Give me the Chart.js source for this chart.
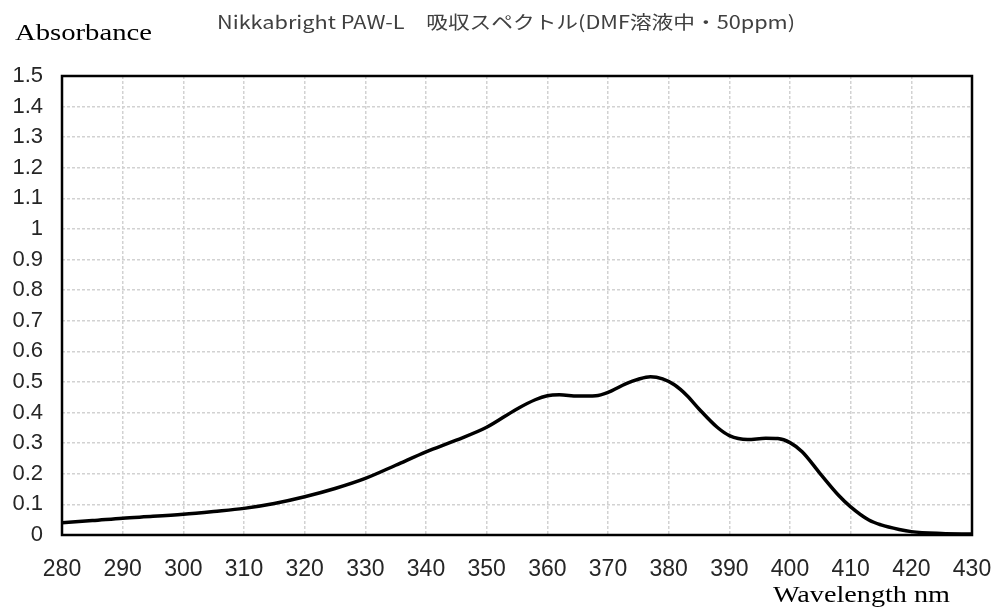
<!DOCTYPE html>
<html>
<head>
<meta charset="utf-8">
<script src="https://cdn.jsdelivr.net/npm/chart.js@4"></script>
<style>
  html, body { margin: 0; padding: 0; background: #fff; }
  #wrap { width: 997px; height: 613px; }
</style>
</head>
<body>
<div id="wrap"><canvas id="absChart"></canvas></div>
<script>
// ------------------------------
// Data
// ------------------------------
const wavelengths = [
  280, 285, 290, 295, 300, 305, 310, 315, 320, 325,
  330, 335, 340, 345, 350, 355, 358, 360, 362, 365,
  368, 370, 373, 375, 377, 379, 381, 383, 385, 388,
  390, 393, 396, 398, 400, 402, 405, 408, 410, 413,
  415, 418, 420, 425, 430
];

const absorbance = [
  0.040, 0.047, 0.055, 0.061, 0.068, 0.077, 0.087, 0.103, 0.125, 0.152,
  0.185, 0.228, 0.272, 0.310, 0.352, 0.412, 0.442, 0.455, 0.458, 0.454,
  0.455, 0.466, 0.495, 0.509, 0.517, 0.510, 0.490, 0.456, 0.412, 0.352,
  0.325, 0.312, 0.316, 0.315, 0.302, 0.272, 0.200, 0.130, 0.092, 0.049,
  0.033, 0.018, 0.011, 0.005, 0.003
];

const chartTitle = "Nikkabright PAW-L\u3000吸収スペクトル(DMF溶液中・50ppm)";
const yTitle = "Absorbance";
const xTitle = "Wavelength nm";

// draw text stretched to a given width (the source image is a bit wide)
function drawWide(c, text, x, y, width) {
  const w = c.measureText(text).width;
  c.save();
  c.translate(x, y);
  c.scale(width / w, 1);
  c.fillText(text, 0, 0);
  c.restore();
}

// ------------------------------
// Extra drawing: frame + texts
// ------------------------------
const framePlugin = {
  id: "frame",
  afterDraw(chart) {
    const c = chart.ctx;
    const a = chart.chartArea;
    c.save();
    c.strokeStyle = "#000";
    c.lineWidth = 2.5;
    c.strokeRect(a.left, a.top, a.right - a.left, a.bottom - a.top);

    c.textAlign = "left";
    c.textBaseline = "middle";
    c.fillStyle = "#404040";
    c.font = "18px 'Noto Sans CJK JP'";
    drawWide(c, chartTitle, 217, 22, 578);

    c.fillStyle = "#000";
    c.font = "24px 'Liberation Serif'";
    drawWide(c, yTitle, 15, 34, 137);
    drawWide(c, xTitle, 773, 596, 177);
    c.restore();
  }
};

const ctx = document.getElementById("absChart");

new Chart(ctx, {
  type: "line",
  data: {
    datasets: [
      {
        data: wavelengths.map((w, i) => ({ x: w, y: absorbance[i] })),
        borderColor: "#000",
        borderWidth: 3.5,
        pointRadius: 0,
        cubicInterpolationMode: "monotone",
        fill: false
      }
    ]
  },
  options: {
    responsive: true,
    maintainAspectRatio: false,
    animation: false,
    layout: {
      padding: { top: 76, right: 25, left: 0, bottom: 0 }
    },
    plugins: {
      legend: { display: false },
      title: { display: false },
      tooltip: { enabled: false }
    },
    scales: {
      x: {
        type: "linear",
        min: 280,
        max: 430,
        afterFit(scale) {
          scale.height = 78;
          scale.paddingLeft = 0;
          scale.paddingRight = 0;
        },
        ticks: {
          stepSize: 10,
          padding: 21,
          color: "#262626",
          font: { family: "Liberation Sans", size: 23 }
        },
        grid: {
          color: "#d2d2d2",
          lineWidth: 1.5,
          drawTicks: false
        },
        border: { display: false, dash: [3, 2] }
      },
      y: {
        type: "linear",
        min: 0,
        max: 1.5,
        afterFit(scale) {
          scale.width = 62;
          scale.paddingTop = 0;
          scale.paddingBottom = 0;
        },
        ticks: {
          stepSize: 0.1,
          padding: 19,
          color: "#262626",
          font: { family: "Liberation Sans", size: 22 },
          callback: (v) => String(Number(v.toFixed(1)))
        },
        grid: {
          color: "#d2d2d2",
          lineWidth: 1.5,
          drawTicks: false
        },
        border: { display: false, dash: [3, 2] }
      }
    }
  },
  plugins: [framePlugin]
});
</script>
</body>
</html>
